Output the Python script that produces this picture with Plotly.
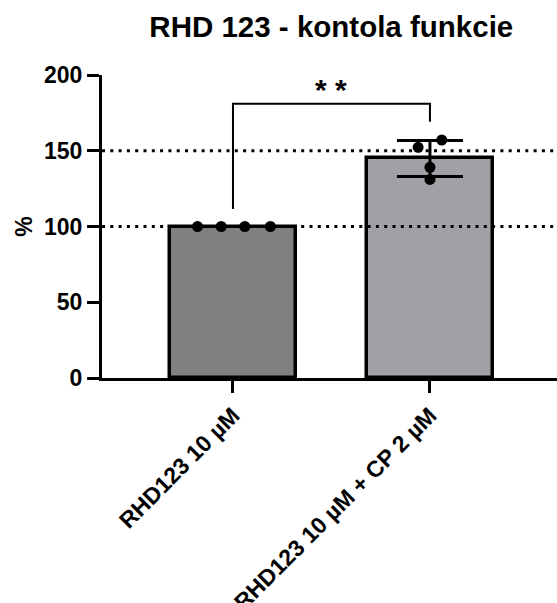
import numpy as np
import plotly.graph_objects as go

# ---- data ----
categories = ["RHD123 10 µM", "RHD123 10 µM + CP 2 µM"]
group1_values = [100.0, 100.0, 100.0, 100.0]
group2_values = [152.3, 157.1, 139.1, 131.1]
group1_jitter = [-0.18, -0.06, 0.06, 0.19]
group2_jitter = [-0.06, 0.06, 0.0, 0.0]
y_ticks = [0, 50, 100, 150, 200]
ref_lines = [100, 150]
significance = "* *"
title_text = "RHD 123 - kontola funkcie"
y_label = "%"

groups = [group1_values, group2_values]
jitters = [group1_jitter, group2_jitter]
means = [float(np.mean(g)) for g in groups]
sds = [float(np.std(g, ddof=1)) for g in groups]
bar_colors = ["#808080", "#a1a1a5"]
xpos = list(range(len(categories)))
x_range = [-0.665, 1.645]

FONT = "Arial, Liberation Sans, Helvetica, sans-serif"

fig = go.Figure()

fig.add_trace(go.Bar(
    x=xpos, y=means, width=0.64,
    marker=dict(color=bar_colors, line=dict(color="black", width=3.5)),
    error_y=dict(type="data", array=sds, visible=True, color="black",
                 thickness=3, width=33),
    showlegend=False, hoverinfo="skip",
))

# dotted reference lines
for v in ref_lines:
    fig.add_trace(go.Scatter(
        x=x_range, y=[v, v], mode="lines",
        line=dict(color="black", width=3, dash="3px,5.3px"),
        showlegend=False, hoverinfo="skip", cliponaxis=False,
    ))

# individual points
for i, (g, j) in enumerate(zip(groups, jitters)):
    fig.add_trace(go.Scatter(
        x=[i + d for d in j], y=g, mode="markers",
        marker=dict(color="black", size=11),
        showlegend=False, cliponaxis=False,
    ))

# significance bracket
top = max(max(g) for g in groups) + 24
legs = [max(group1_values) + 11.5, max(group2_values) + 12]
fig.add_trace(go.Scatter(
    x=[0, 0, 1, 1], y=[legs[0], top, top, legs[1]], mode="lines",
    line=dict(color="black", width=2), showlegend=False,
    hoverinfo="skip", cliponaxis=False,
))
fig.add_annotation(
    x=0.5, y=top, text="<b>" + significance + "</b>", showarrow=False,
    yanchor="bottom", yshift=-4, font=dict(family=FONT, size=30, color="black"),
)

fig.update_layout(
    width=557, height=603,
    margin=dict(l=102, r=0, t=75, b=225, autoexpand=False),
    paper_bgcolor="white", plot_bgcolor="white",
    font=dict(family=FONT, color="black"),
    title=dict(text="<b>" + title_text + "</b>", x=0.504, xref="paper",
               y=0.955, yref="container", yanchor="middle", xanchor="center",
               font=dict(family=FONT, size=29.5, color="black")),
    bargap=0,
)

fig.update_xaxes(
    range=x_range, tickvals=xpos,
    ticktext=["<b>" + c + "</b>" for c in categories],
    tickangle=-45, ticks="outside", ticklen=12, tickwidth=3, tickcolor="black",
    showline=True, linewidth=3, linecolor="black", showgrid=False, zeroline=False,
    tickfont=dict(family=FONT, size=23, color="black"), automargin=False,
)
fig.update_yaxes(
    range=[0, 200], tickvals=y_ticks,
    ticktext=["<b>%d</b>" % t for t in y_ticks],
    ticks="outside", ticklen=12, tickwidth=3, tickcolor="black",
    showline=True, linewidth=3, linecolor="black", showgrid=False, zeroline=False,
    tickfont=dict(family=FONT, size=23, color="black"), automargin=False,
    title=dict(text="<b>" + y_label + "</b>", standoff=5,
               font=dict(family=FONT, size=23, color="black")),
)

fig.write_html("out.html", config={"displayModeBar": False},
               post_script="document.body.style.margin='0';")
